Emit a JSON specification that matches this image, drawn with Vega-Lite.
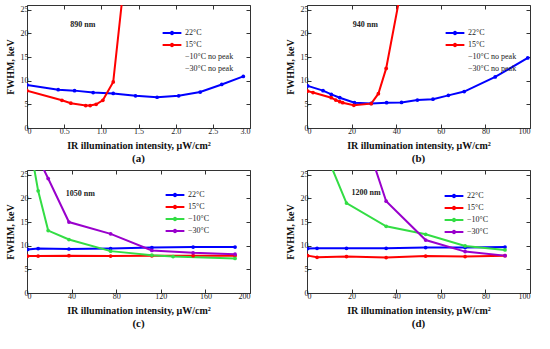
{
  "$schema": "https://vega.github.io/schema/vega-lite/v6.json",
  "padding": {"left": 4, "top": 4, "right": 2, "bottom": 2},
  "background": "white",
  "config": {
    "font": "Liberation Serif",
    "view": {"stroke": "#333", "strokeWidth": 1},
    "axis": {"grid": false, "domain": false, "tickSize": -4, "tickColor": "#333", "labelFont": "Liberation Serif", "titleFont": "Liberation Serif", "labelFontSize": 8, "labelColor": "#222", "labelPadding": 3, "titleFontSize": 10, "titleFontWeight": "bold", "titleColor": "#111", "titlePadding": 5},
    "legend": {"labelFont": "Liberation Serif", "labelFontSize": 8, "labelColor": "#222", "symbolStrokeWidth": 2, "rowPadding": 0, "labelOffset": 7, "padding": 0},
    "title": {"font": "Liberation Serif", "fontSize": 11, "fontWeight": "bold", "color": "#111", "offset": 3},
    "text": {"font": "Liberation Serif"}
  },
  "datasets": {
    "a": [
      {"x": 0, "y": 9.1, "s": "22°C"}, {"x": 0.42, "y": 8.1, "s": "22°C"}, {"x": 0.64, "y": 7.9, "s": "22°C"}, {"x": 0.89, "y": 7.5, "s": "22°C"}, {"x": 1.16, "y": 7.3, "s": "22°C"}, {"x": 1.46, "y": 6.8, "s": "22°C"}, {"x": 1.75, "y": 6.5, "s": "22°C"}, {"x": 2.04, "y": 6.8, "s": "22°C"}, {"x": 2.33, "y": 7.6, "s": "22°C"}, {"x": 2.62, "y": 9.2, "s": "22°C"}, {"x": 2.91, "y": 10.9, "s": "22°C"},
      {"x": 0, "y": 7.9, "s": "15°C"}, {"x": 0.47, "y": 5.85, "s": "15°C"}, {"x": 0.59, "y": 5.25, "s": "15°C"}, {"x": 0.79, "y": 4.75, "s": "15°C"}, {"x": 0.85, "y": 4.75, "s": "15°C"}, {"x": 0.93, "y": 5.0, "s": "15°C"}, {"x": 1.02, "y": 5.85, "s": "15°C"}, {"x": 1.16, "y": 9.75, "s": "15°C"}, {"x": 1.3, "y": 30, "s": "15°C"}
    ],
    "b": [
      {"x": 0.3, "y": 8.9, "s": "22°C"}, {"x": 7.2, "y": 7.9, "s": "22°C"}, {"x": 10.9, "y": 7.1, "s": "22°C"}, {"x": 14.7, "y": 6.4, "s": "22°C"}, {"x": 21.3, "y": 5.35, "s": "22°C"}, {"x": 28.8, "y": 5.2, "s": "22°C"}, {"x": 35.7, "y": 5.35, "s": "22°C"}, {"x": 42.4, "y": 5.4, "s": "22°C"}, {"x": 49.5, "y": 5.9, "s": "22°C"}, {"x": 56.5, "y": 6.1, "s": "22°C"}, {"x": 63.4, "y": 6.9, "s": "22°C"}, {"x": 70.5, "y": 7.7, "s": "22°C"}, {"x": 84.4, "y": 10.8, "s": "22°C"}, {"x": 99, "y": 14.8, "s": "22°C"},
      {"x": 0.3, "y": 7.8, "s": "15°C"}, {"x": 2.7, "y": 7.5, "s": "15°C"}, {"x": 10.9, "y": 6.4, "s": "15°C"}, {"x": 12.9, "y": 5.9, "s": "15°C"}, {"x": 14.7, "y": 5.55, "s": "15°C"}, {"x": 16, "y": 5.35, "s": "15°C"}, {"x": 21, "y": 4.8, "s": "15°C"}, {"x": 28.8, "y": 5.15, "s": "15°C"}, {"x": 32, "y": 7.25, "s": "15°C"}, {"x": 35.5, "y": 12.6, "s": "15°C"}, {"x": 41, "y": 26.3, "s": "15°C"}
    ],
    "c": [
      {"x": 0.6, "y": 9.2, "s": "22°C"}, {"x": 10, "y": 9.4, "s": "22°C"}, {"x": 37.6, "y": 9.3, "s": "22°C"}, {"x": 75, "y": 9.4, "s": "22°C"}, {"x": 112, "y": 9.6, "s": "22°C"}, {"x": 149, "y": 9.7, "s": "22°C"}, {"x": 186.6, "y": 9.7, "s": "22°C"},
      {"x": 0.6, "y": 7.8, "s": "15°C"}, {"x": 10, "y": 7.8, "s": "15°C"}, {"x": 37.6, "y": 7.9, "s": "15°C"}, {"x": 75, "y": 7.8, "s": "15°C"}, {"x": 112, "y": 7.85, "s": "15°C"}, {"x": 149, "y": 7.9, "s": "15°C"}, {"x": 186.6, "y": 7.9, "s": "15°C"},
      {"x": 0.6, "y": 34, "s": "−10°C"}, {"x": 10, "y": 21.6, "s": "−10°C"}, {"x": 19, "y": 13.2, "s": "−10°C"}, {"x": 37.6, "y": 11.3, "s": "−10°C"}, {"x": 75, "y": 8.85, "s": "−10°C"}, {"x": 112, "y": 8.0, "s": "−10°C"}, {"x": 131, "y": 7.7, "s": "−10°C"}, {"x": 186.6, "y": 7.3, "s": "−10°C"},
      {"x": 0.6, "y": 33, "s": "−30°C"}, {"x": 19, "y": 24.2, "s": "−30°C"}, {"x": 37.6, "y": 15.0, "s": "−30°C"}, {"x": 75, "y": 12.5, "s": "−30°C"}, {"x": 112, "y": 9.0, "s": "−30°C"}, {"x": 149, "y": 8.5, "s": "−30°C"}, {"x": 186.6, "y": 8.2, "s": "−30°C"}
    ],
    "d": [
      {"x": 0.3, "y": 9.4, "s": "22°C"}, {"x": 4.5, "y": 9.45, "s": "22°C"}, {"x": 17.7, "y": 9.45, "s": "22°C"}, {"x": 35.5, "y": 9.45, "s": "22°C"}, {"x": 53.2, "y": 9.6, "s": "22°C"}, {"x": 70.9, "y": 9.6, "s": "22°C"}, {"x": 88.8, "y": 9.7, "s": "22°C"},
      {"x": 0.3, "y": 7.9, "s": "15°C"}, {"x": 4.5, "y": 7.55, "s": "15°C"}, {"x": 17.7, "y": 7.7, "s": "15°C"}, {"x": 35.5, "y": 7.5, "s": "15°C"}, {"x": 53.2, "y": 7.8, "s": "15°C"}, {"x": 70.9, "y": 7.7, "s": "15°C"}, {"x": 88.8, "y": 7.9, "s": "15°C"},
      {"x": 4.5, "y": 34, "s": "−10°C"}, {"x": 17.7, "y": 19.0, "s": "−10°C"}, {"x": 35.5, "y": 14.1, "s": "−10°C"}, {"x": 53.2, "y": 12.4, "s": "−10°C"}, {"x": 70.9, "y": 9.95, "s": "−10°C"}, {"x": 88.8, "y": 9.1, "s": "−10°C"},
      {"x": 17.7, "y": 44.7, "s": "−30°C"}, {"x": 35.5, "y": 19.4, "s": "−30°C"}, {"x": 53.2, "y": 11.2, "s": "−30°C"}, {"x": 70.9, "y": 8.75, "s": "−30°C"}, {"x": 88.8, "y": 7.9, "s": "−30°C"}
    ]
  },
  "spacing": 4,
  "vconcat": [
    {
      "spacing": 33,
      "resolve": {"scale": {"color": "independent"}, "legend": {"color": "independent"}},
      "hconcat": [
        {
          "width": 223, "height": 123,
          "title": {"text": "(a)", "orient": "bottom"},
          "data": {"name": "a"},
          "resolve": {"axis": {"x": "independent", "y": "independent"}},
          "layer": [
            {
              "mark": {"type": "line", "clip": true, "strokeWidth": 2},
              "encoding": {
                "x": {"field": "x", "type": "quantitative", "scale": {"domain": [0, 3]}, "axis": {"values": [0, 0.5, 1, 1.5, 2, 2.5, 3], "labelExpr": "datum.value == 0 ? '0' : format(datum.value, '.1f')", "title": "IR illumination intensity, μW/cm²"}},
                "y": {"field": "y", "type": "quantitative", "scale": {"domain": [0, 25]}, "axis": {"values": [0, 5, 10, 15, 20, 25], "title": "FWHM, keV"}},
                "color": {"field": "s", "type": "nominal", "scale": {"domain": ["22°C", "15°C", "−10°C no peak", "−30°C no peak"], "range": ["#0000ff", "#ff0000", "rgba(0,0,0,0)", "rgba(0,0,0,0)"]}, "legend": {"title": null, "orient": "none", "legendX": 139, "legendY": 22, "symbolType": "M-2,0L2,0M-0.25,0A0.25,0.25 0 1 0 0.25,0A0.25,0.25 0 1 0 -0.25,0", "symbolSize": 88}}
              }
            },
            {
              "mark": {"type": "point", "filled": true, "size": 14, "opacity": 1, "clip": true},
              "encoding": {
                "x": {"field": "x", "type": "quantitative", "axis": {"orient": "top", "values": [0, 0.5, 1, 1.5, 2, 2.5, 3], "labels": false, "title": null}},
                "y": {"field": "y", "type": "quantitative", "axis": {"orient": "right", "values": [0, 5, 10, 15, 20, 25], "labels": false, "title": null}},
                "color": {"field": "s", "type": "nominal"}
              }
            },
            {
              "data": {"values": [{"t": "890 nm"}]},
              "mark": {"type": "text", "fontSize": 8, "fontWeight": "bold", "color": "#222"},
              "encoding": {"x": {"datum": 0.75, "axis": null}, "y": {"datum": 21.8, "axis": null}, "text": {"field": "t"}}
            }
          ]
        },
        {
          "width": 223, "height": 123,
          "title": {"text": "(b)", "orient": "bottom"},
          "data": {"name": "b"},
          "resolve": {"axis": {"x": "independent", "y": "independent"}},
          "layer": [
            {
              "mark": {"type": "line", "clip": true, "strokeWidth": 2},
              "encoding": {
                "x": {"field": "x", "type": "quantitative", "scale": {"domain": [0, 100]}, "axis": {"values": [0, 20, 40, 60, 80, 100], "title": "IR illumination intensity, μW/cm²"}},
                "y": {"field": "y", "type": "quantitative", "scale": {"domain": [0, 25]}, "axis": {"values": [0, 5, 10, 15, 20, 25], "title": "FWHM, keV"}},
                "color": {"field": "s", "type": "nominal", "scale": {"domain": ["22°C", "15°C", "−10°C no peak", "−30°C no peak"], "range": ["#0000ff", "#ff0000", "rgba(0,0,0,0)", "rgba(0,0,0,0)"]}, "legend": {"title": null, "orient": "none", "legendX": 142, "legendY": 22, "symbolType": "M-2,0L2,0M-0.25,0A0.25,0.25 0 1 0 0.25,0A0.25,0.25 0 1 0 -0.25,0", "symbolSize": 88}}
              }
            },
            {
              "mark": {"type": "point", "filled": true, "size": 14, "opacity": 1, "clip": true},
              "encoding": {
                "x": {"field": "x", "type": "quantitative", "axis": {"orient": "top", "values": [0, 20, 40, 60, 80, 100], "labels": false, "title": null}},
                "y": {"field": "y", "type": "quantitative", "axis": {"orient": "right", "values": [0, 5, 10, 15, 20, 25], "labels": false, "title": null}},
                "color": {"field": "s", "type": "nominal"}
              }
            },
            {
              "data": {"values": [{"t": "940 nm"}]},
              "mark": {"type": "text", "fontSize": 8, "fontWeight": "bold", "color": "#222"},
              "encoding": {"x": {"datum": 26.2, "axis": null}, "y": {"datum": 21.8, "axis": null}, "text": {"field": "t"}}
            }
          ]
        }
      ]
    },
    {
      "spacing": 33,
      "resolve": {"scale": {"color": "independent"}, "legend": {"color": "independent"}},
      "hconcat": [
        {
          "width": 223, "height": 123,
          "title": {"text": "(c)", "orient": "bottom"},
          "data": {"name": "c"},
          "resolve": {"axis": {"x": "independent", "y": "independent"}},
          "layer": [
            {
              "mark": {"type": "line", "clip": true, "strokeWidth": 2},
              "encoding": {
                "x": {"field": "x", "type": "quantitative", "scale": {"domain": [0, 200]}, "axis": {"values": [0, 40, 80, 120, 160, 200], "title": "IR illumination intensity, μW/cm²"}},
                "y": {"field": "y", "type": "quantitative", "scale": {"domain": [0, 25]}, "axis": {"values": [0, 5, 10, 15, 20, 25], "title": "FWHM, keV"}},
                "color": {"field": "s", "type": "nominal", "scale": {"domain": ["22°C", "15°C", "−10°C", "−30°C"], "range": ["#0000ff", "#ff0000", "#33dd44", "#9900cc"]}, "legend": {"title": null, "orient": "none", "legendX": 142, "legendY": 19, "symbolType": "M-2,0L2,0M-0.25,0A0.25,0.25 0 1 0 0.25,0A0.25,0.25 0 1 0 -0.25,0", "symbolSize": 88}}
              }
            },
            {
              "mark": {"type": "point", "filled": true, "size": 14, "opacity": 1, "clip": true},
              "encoding": {
                "x": {"field": "x", "type": "quantitative", "axis": {"orient": "top", "values": [0, 40, 80, 120, 160, 200], "labels": false, "title": null}},
                "y": {"field": "y", "type": "quantitative", "axis": {"orient": "right", "values": [0, 5, 10, 15, 20, 25], "labels": false, "title": null}},
                "color": {"field": "s", "type": "nominal"}
              }
            },
            {
              "data": {"values": [{"t": "1050 nm"}]},
              "mark": {"type": "text", "fontSize": 8, "fontWeight": "bold", "color": "#222"},
              "encoding": {"x": {"datum": 47.8, "axis": null}, "y": {"datum": 20.9, "axis": null}, "text": {"field": "t"}}
            }
          ]
        },
        {
          "width": 223, "height": 123,
          "title": {"text": "(d)", "orient": "bottom"},
          "data": {"name": "d"},
          "resolve": {"axis": {"x": "independent", "y": "independent"}},
          "layer": [
            {
              "mark": {"type": "line", "clip": true, "strokeWidth": 2},
              "encoding": {
                "x": {"field": "x", "type": "quantitative", "scale": {"domain": [0, 100]}, "axis": {"values": [0, 20, 40, 60, 80, 100], "title": "IR illumination intensity, μW/cm²"}},
                "y": {"field": "y", "type": "quantitative", "scale": {"domain": [0, 25]}, "axis": {"values": [0, 5, 10, 15, 20, 25], "title": "FWHM, keV"}},
                "color": {"field": "s", "type": "nominal", "scale": {"domain": ["22°C", "15°C", "−10°C", "−30°C"], "range": ["#0000ff", "#ff0000", "#33dd44", "#9900cc"]}, "legend": {"title": null, "orient": "none", "legendX": 141, "legendY": 20, "symbolType": "M-2,0L2,0M-0.25,0A0.25,0.25 0 1 0 0.25,0A0.25,0.25 0 1 0 -0.25,0", "symbolSize": 88}}
              }
            },
            {
              "mark": {"type": "point", "filled": true, "size": 14, "opacity": 1, "clip": true},
              "encoding": {
                "x": {"field": "x", "type": "quantitative", "axis": {"orient": "top", "values": [0, 20, 40, 60, 80, 100], "labels": false, "title": null}},
                "y": {"field": "y", "type": "quantitative", "axis": {"orient": "right", "values": [0, 5, 10, 15, 20, 25], "labels": false, "title": null}},
                "color": {"field": "s", "type": "nominal"}
              }
            },
            {
              "data": {"values": [{"t": "1200 nm"}]},
              "mark": {"type": "text", "fontSize": 8, "fontWeight": "bold", "color": "#222"},
              "encoding": {"x": {"datum": 26.5, "axis": null}, "y": {"datum": 21.1, "axis": null}, "text": {"field": "t"}}
            }
          ]
        }
      ]
    }
  ],
  "resolve": {"scale": {"color": "independent"}, "legend": {"color": "independent"}}
}
